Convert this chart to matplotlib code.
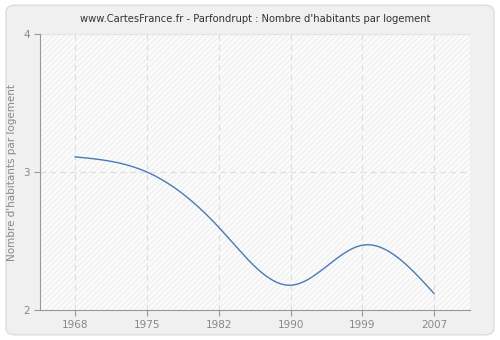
import numpy as np
import matplotlib
matplotlib.use("Agg")
import matplotlib.pyplot as plt
from matplotlib.patches import FancyBboxPatch

years = [1968, 1975, 1982, 1990, 1999, 2007]
values = [3.11, 3.00, 2.60, 2.18, 2.47, 2.12]
year_labels = ["1968", "1975", "1982", "1990", "1999", "2007"]
y_ticks = [2, 3, 4]

title = "www.CartesFrance.fr - Parfondrupt : Nombre d'habitants par logement"
y_label = "Nombre d'habitants par logement"


def natural_spline(x, y, xs):
    x = np.asarray(x, float)
    y = np.asarray(y, float)
    n = len(x)
    h = np.diff(x)
    A = np.zeros((n, n))
    b = np.zeros(n)
    A[0, 0] = 1
    A[-1, -1] = 1
    for i in range(1, n - 1):
        A[i, i - 1] = h[i - 1]
        A[i, i] = 2 * (h[i - 1] + h[i])
        A[i, i + 1] = h[i]
        b[i] = 6 * ((y[i + 1] - y[i]) / h[i] - (y[i] - y[i - 1]) / h[i - 1])
    M = np.linalg.solve(A, b)
    out = np.empty_like(xs)
    for k, t in enumerate(xs):
        i = min(max(np.searchsorted(x, t) - 1, 0), n - 2)
        a, c = x[i], x[i + 1]
        hi = h[i]
        out[k] = (M[i] * (c - t) ** 3 / (6 * hi) + M[i + 1] * (t - a) ** 3 / (6 * hi)
                  + (y[i] / hi - M[i] * hi / 6) * (c - t)
                  + (y[i + 1] / hi - M[i + 1] * hi / 6) * (t - a))
    return out


plt.rcParams["hatch.color"] = "#ebebeb"
plt.rcParams["hatch.linewidth"] = 0.6

fig = plt.figure(figsize=(5, 3.4), dpi=100)
fig.patch.set_facecolor("white")

# rounded grey card behind the chart
bg = fig.add_axes([0, 0, 1, 1], zorder=-1)
bg.set_axis_off()
bg.add_patch(FancyBboxPatch((0.012, 0.015), 0.976, 0.97,
                            boxstyle="round,pad=0,rounding_size=0.02",
                            transform=bg.transAxes, facecolor="#f0f0f0",
                            edgecolor="#dddddd", linewidth=1.0))

ax = fig.add_axes([0.08, 0.088, 0.86, 0.812], zorder=1)
ax.set_facecolor("#fbfbfb")
ax.add_patch(plt.Rectangle((0, 0), 1, 1, transform=ax.transAxes,
                           facecolor="none", hatch="//////",
                           linewidth=0, zorder=0))

# census years are placed at evenly spaced positions
pos = np.arange(len(years))
xs = np.linspace(pos[0], pos[-1], 400)
ax.plot(xs, natural_spline(pos, values, xs), color="#4a7ab5", linewidth=1.0, zorder=3)

ax.set_xlim(-0.49, len(years) - 0.5)
ax.set_ylim(2, 4)
ax.set_xticks(pos)
ax.set_xticklabels(year_labels)
ax.set_yticks(y_ticks)

ax.grid(True, color="#dddddd", linestyle=(0, (5, 4)), linewidth=0.8)
ax.axhline(4, color="#e4e4e4", linewidth=0.8)

for s in ["top", "right"]:
    ax.spines[s].set_visible(False)
for s in ["left", "bottom"]:
    ax.spines[s].set_color("#999999")

ax.tick_params(axis="both", colors="#999999", labelcolor="#888888",
               labelsize=7.5, length=4, width=0.8)
ax.set_ylabel(y_label, color="#888888", fontsize=7.5)
ax.set_title(title, fontsize=7.2, color="#333333", pad=9)

fig.savefig("out.png", dpi=100, facecolor=fig.get_facecolor())
